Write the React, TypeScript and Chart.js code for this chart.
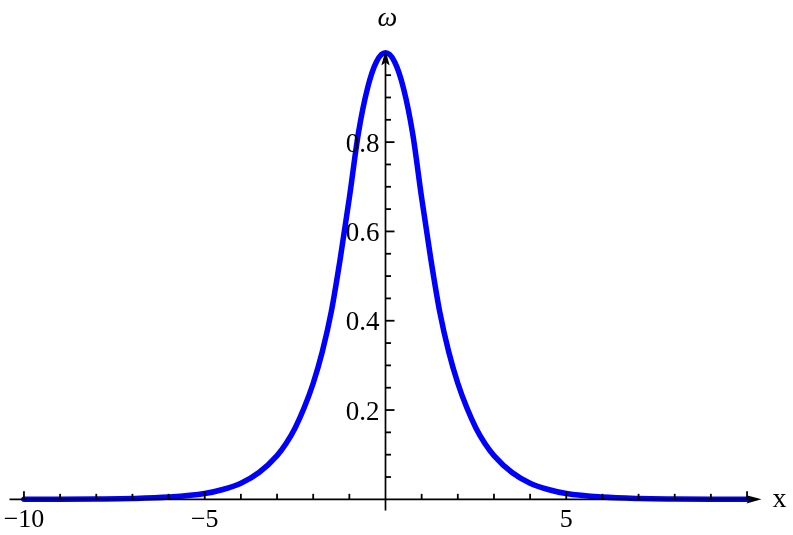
import React, { useEffect, useRef } from "react";
import { Chart, registerables } from "chart.js";

Chart.register(...registerables);

// Curve samples (x, ω)
const xValues = [
  -10, -9, -8, -7, -6, -5, -4.5, -4, -3.5, -3, -2.75, -2.5, -2.25, -2, -1.75, -1.5, -1.25, -1, -0.75, -0.5, -0.25,
  0,
  0.25, 0.5, 0.75, 1, 1.25, 1.5, 1.75, 2, 2.25, 2.5, 2.75, 3, 3.5, 4, 4.5, 5, 6, 7, 8, 9, 10,
];
const omegaValues = [
  0.0001, 0.0002, 0.0007, 0.0018, 0.005, 0.013, 0.022, 0.036, 0.06, 0.098, 0.125, 0.16, 0.205, 0.26, 0.33, 0.42, 0.54, 0.675, 0.82, 0.92, 0.98,
  1.0,
  0.98, 0.92, 0.82, 0.675, 0.54, 0.42, 0.33, 0.26, 0.205, 0.16, 0.125, 0.098, 0.06, 0.036, 0.022, 0.013, 0.005, 0.0018, 0.0007, 0.0002, 0.0001,
];

// Axis ticks and labels
const xTickValues = [-10, -9, -8, -7, -6, -5, -4, -3, -2, -1, 1, 2, 3, 4, 5, 6, 7, 8, 9, 10];
const xLabelValues = [-10, -5, 5];
const xLabelTexts = ["\u221210", "\u22125", "5"];
const yTickValues = [0.05, 0.1, 0.15, 0.2, 0.25, 0.3, 0.35, 0.4, 0.45, 0.5, 0.55, 0.6, 0.65, 0.7, 0.75, 0.8, 0.85, 0.9, 0.95];
const yLabelValues = [0.2, 0.4, 0.6, 0.8];
const yLabelTexts = ["0.2", "0.4", "0.6", "0.8"];
const xAxisTitle = "x";
const yAxisTitle = "\u03c9";

const axesPlugin = {
  id: "mathAxes",
  afterDatasetsDraw(chart: any) {
    const ctx = chart.ctx as CanvasRenderingContext2D;
    const xs = chart.scales.x;
    const ys = chart.scales.y;
    const area = chart.chartArea;
    const x0 = xs.getPixelForValue(0);
    const y0 = ys.getPixelForValue(0);
    ctx.save();
    ctx.strokeStyle = "#000";
    ctx.fillStyle = "#000";
    ctx.lineWidth = 1.7;
    // x axis
    ctx.beginPath();
    ctx.moveTo(area.left, y0);
    ctx.lineTo(area.right - 4, y0);
    ctx.stroke();
    // x arrow
    ctx.beginPath();
    ctx.moveTo(area.right, y0);
    ctx.lineTo(area.right - 15, y0 - 4.2);
    ctx.lineTo(area.right - 12, y0);
    ctx.lineTo(area.right - 15, y0 + 4.2);
    ctx.closePath();
    ctx.fill();
    // y axis
    ctx.beginPath();
    ctx.moveTo(x0, area.bottom);
    ctx.lineTo(x0, area.top + 4);
    ctx.stroke();
    // y arrow
    ctx.beginPath();
    ctx.moveTo(x0, area.top);
    ctx.lineTo(x0 - 4.2, area.top + 15);
    ctx.lineTo(x0, area.top + 12);
    ctx.lineTo(x0 + 4.2, area.top + 15);
    ctx.closePath();
    ctx.fill();

    // x ticks (upward)
    ctx.lineWidth = 1.8;
    for (const v of xTickValues) {
      const px = xs.getPixelForValue(v);
      const len = v % 5 === 0 ? 8 : 5.5;
      ctx.beginPath();
      ctx.moveTo(px, y0);
      ctx.lineTo(px, y0 - len);
      ctx.stroke();
    }
    // y ticks (rightward)
    for (const v of yTickValues) {
      const py = ys.getPixelForValue(v);
      const major = Math.abs(v * 5 - Math.round(v * 5)) < 1e-6;
      const len = major ? 9 : 5.5;
      ctx.beginPath();
      ctx.moveTo(x0, py);
      ctx.lineTo(x0 + len, py);
      ctx.stroke();
    }

    // x labels
    ctx.font = '26px "Liberation Serif", "Times New Roman", serif';
    ctx.textAlign = "center";
    ctx.textBaseline = "alphabetic";
    xLabelValues.forEach((v, i) => {
      ctx.fillText(xLabelTexts[i], xs.getPixelForValue(v), y0 + 28);
    });
    // y labels
    ctx.font = '27px "Liberation Serif", "Times New Roman", serif';
    ctx.textAlign = "right";
    yLabelValues.forEach((v, i) => {
      ctx.fillText(yLabelTexts[i], x0 - 6, ys.getPixelForValue(v) + 9.5);
    });
    // axis titles
    ctx.font = '28px "Liberation Serif", "Times New Roman", serif';
    ctx.textAlign = "left";
    ctx.fillText(xAxisTitle, area.right + 11, y0 + 8);
    ctx.font = 'italic 28px "Liberation Serif", "Times New Roman", serif';
    ctx.textAlign = "center";
    ctx.fillText(yAxisTitle, x0 + 2, area.top - 25);
    ctx.restore();
  },
};

export default function App() {
  const canvasRef = useRef<HTMLCanvasElement | null>(null);

  useEffect(() => {
    document.body.style.margin = "0";
    const canvas = canvasRef.current;
    if (!canvas) return;
    const points = xValues.map((x, i) => ({ x, y: omegaValues[i] }));
    const chart = new Chart(canvas, {
      type: "line",
      data: {
        datasets: [
          {
            data: points,
            borderColor: "#0000ff",
            borderWidth: 5.5,
            pointRadius: 0,
            fill: false,
            cubicInterpolationMode: "monotone",
            borderCapStyle: "round",
            borderJoinStyle: "round",
            clip: false,
          } as any,
        ],
      },
      options: {
        animation: false,
        responsive: false,
        devicePixelRatio: 1,
        layout: { padding: { left: 9.5, right: 31.5, top: 50.6, bottom: 24.5 } },
        scales: {
          x: { type: "linear", min: -10.4, max: 10.4, display: false },
          y: { type: "linear", min: -0.025, max: 1.005, display: false },
        },
        plugins: { legend: { display: false }, tooltip: { enabled: false } },
      },
      plugins: [axesPlugin],
    });
    return () => chart.destroy();
  }, []);

  return (
    <div style={{ width: 793, height: 535, background: "#fff" }}>
      <canvas ref={canvasRef} width={793} height={535} style={{ display: "block" }} />
    </div>
  );
}
